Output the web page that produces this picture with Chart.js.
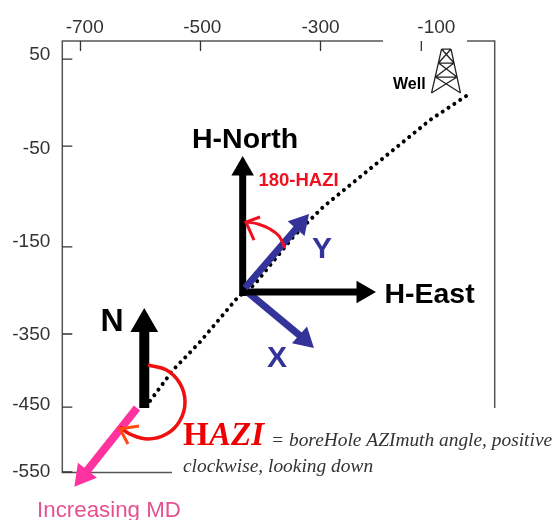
<!DOCTYPE html>
<html>
<head>
<meta charset="utf-8">
<style>
html,body{margin:0;padding:0;background:#fff;}
canvas{display:block;}
</style>
<script src="https://cdn.jsdelivr.net/npm/chart.js@4"></script>
</head>
<body>
<canvas id="graph" width="555" height="520"></canvas>
<script>
/* tick labels sit a little away from their tick marks in the original */
var xTickAt = [-693, -497, -300, -107];
var xTickLabels = ['-700', '-500', '-300', '-100'];
var yTickAt = [55.8, -80.3, -215.9, -350.5, -452.7, -550];
var yTickLabels = ['50', '-50', '-150', '-350', '-450', '-550'];
var xMarks = [-700, -500, -300, -132];
var yMarks = [50, -76.4, -223, -349.5, -455.6, -550];

/* well path */
var wellX = [-57.5, -117.5, -295.8, -317.5, -345.8, -410.8, -437.5, -500.8, -545.8, -584.2];
var wellY = [-3.8, -38.6, -165, -183.9, -208.6, -278.3, -295.8, -361.1, -401.8, -446.9];

/* arrows, last point is the centre of the head */
var mdX = [-605.8, -695.7];
var mdY = [-457, -555.5];
var nX = [-593.7, -593.7];
var nY = [-457, -335];
var hNorthX = [-429.7, -429.7];
var hNorthY = [-294.3, -109.8];
var hEastX = [-434.2, -229.2];
var hEastY = [-288.5, -288.5];
var axisYX = [-425.8, -333.5];
var axisYY = [-282.7, -189.3];
var axisXX = [-425.8, -327];
var axisXY = [-285.6, -357.2];

/* angle arcs */
var hazAngleX = [-587.5, -556.7, -534.2, -525.8, -534.2, -556.7, -587.5, -617.5, -634.2];
var hazAngleY = [-394.6, -401.8, -421.4, -448.3, -475.2, -494.8, -502, -494.8, -484.6];
var hazHeadX = [-602.5, -634.2, -620.8];
var hazHeadY = [-483.2, -487.5, -509.3];
var smallAngleX = [-359.2, -369.2, -384.2, -404.2, -422.5];
var smallAngleY = [-224.6, -207.1, -197, -189.7, -186.8];
var smallHeadX = [-400.8, -424.2, -410.8];
var smallHeadY = [-179.5, -186.8, -213];

/* derrick */
var derrickX = [-98.3, -115, null, -82.5, -66.7, null, -98.3, -82.5, null, -103.3, -77.5, null, -108.3, -72.5, null,
    -98.3, -77.5, null, -82.5, -103.3, null, -103.3, -72.5, null, -77.5, -108.3, null, -108.3, -66.7, null, -72.5, -115];
var derrickY = [64.5, 0.6, null, 64.5, 0.6, null, 64.5, 64.5, null, 44.2, 44.2, null, 23.8, 23.8, null,
    64.5, 44.2, null, 64.5, 44.2, null, 44.2, 23.8, null, 44.2, 23.8, null, 23.8, 0.6, null, 23.8, 0.6];

/* texts */
var noteText = ['H-North', 'H-East', '180-HAZI', 'Y', 'X', 'N', 'Well', 'Increasing MD',
    'H', 'AZI', '= boreHole AZImuth angle, positive', 'clockwise, looking down'];
var noteX = [-425.8, -118.3, -336.7, -297.5, -372.5, -647.5, -152, -652.5, -529.2, -485.8, -382.5, -529.2];
var noteY = [-67.7, -292.9, -127.2, -227.5, -385.8, -332.1, 12.7, -606.5, -497.7, -497.7, -504.9, -542.7];
var noteStyle = [
    ['bold 28.5px "Liberation Sans"', '#000', 'center'],
    ['bold 28.5px "Liberation Sans"', '#000', 'center'],
    ['bold 18.5px "Liberation Sans"', '#f01020', 'center'],
    ['bold 30px "Liberation Sans"', '#333399', 'center'],
    ['bold 30px "Liberation Sans"', '#333399', 'center'],
    ['bold 32px "Liberation Sans"', '#000', 'center'],
    ['bold 16px "Liberation Sans"', '#000', 'center'],
    ['22.3px "Liberation Sans"', '#e5508f', 'center'],
    ['bold 33px "Liberation Serif"', '#ee0000', 'left'],
    ['italic bold 33px "Liberation Serif"', '#ee0000', 'left'],
    ['italic 19.4px "Liberation Serif"', '#333', 'left'],
    ['italic 19.4px "Liberation Serif"', '#333', 'left']
];

function xy(xs, ys) {
    return xs.map(function (x, i) { return {x: x, y: ys[i]}; });
}

function arrow(xs, ys, color, width, head, angle) {
    return {
        data: xy(xs, ys),
        showLine: true,
        borderColor: color,
        borderWidth: width,
        backgroundColor: color,
        pointBackgroundColor: color,
        pointBorderWidth: 0,
        pointStyle: 'triangle',
        pointRotation: angle,
        pointRadius: function (c) { return c.dataIndex === xs.length - 1 ? head : 0; },
        clip: false
    };
}

function curve(xs, ys, color, width, tension) {
    return {
        data: xy(xs, ys),
        showLine: true,
        borderColor: color,
        borderWidth: width,
        pointRadius: 0,
        tension: tension,
        clip: false
    };
}

var well = curve(wellX, wellY, '#000', 4, 0);
well.borderDash = [0.01, 7];
well.borderCapStyle = 'round';

var frameAndMarks = {
    id: 'frameAndMarks',
    beforeDatasetsDraw: function (chart) {
        var ctx = chart.ctx, a = chart.chartArea;
        ctx.save();
        ctx.strokeStyle = '#555';
        ctx.lineWidth = 1.5;
        ctx.strokeRect(a.left, a.top, a.right - a.left, a.bottom - a.top);

        /* the pasted boxes hide parts of the frame */
        ctx.fillStyle = '#fff';
        ctx.fillRect(383, 36, 84, 10);
        ctx.fillRect(172, 408, 330, 70);

        ctx.strokeStyle = '#333';
        ctx.lineWidth = 1.3;
        ctx.beginPath();
        xMarks.forEach(function (v) {
            var px = chart.scales.x.getPixelForValue(v);
            ctx.moveTo(px, a.top);
            ctx.lineTo(px, a.top + 10);
        });
        yMarks.forEach(function (v) {
            var py = chart.scales.y.getPixelForValue(v);
            ctx.moveTo(a.left, py);
            ctx.lineTo(a.left + 10, py);
        });
        ctx.stroke();
        ctx.restore();
    }
};

var notes = {
    id: 'notes',
    afterDatasetsDraw: function (chart) {
        var ctx = chart.ctx;
        ctx.save();
        ctx.textBaseline = 'middle';
        noteText.forEach(function (t, i) {
            ctx.font = noteStyle[i][0];
            ctx.fillStyle = noteStyle[i][1];
            ctx.textAlign = noteStyle[i][2];
            ctx.fillText(t, chart.scales.x.getPixelForValue(noteX[i]), chart.scales.y.getPixelForValue(noteY[i]));
        });
        ctx.restore();
    }
};

var tickFont = {family: 'Liberation Sans', size: 19};

new Chart(document.getElementById('graph'), {
    type: 'scatter',
    data: {
        datasets: [
            curve(smallHeadX, smallHeadY, '#f01020', 3, 0),
            curve(smallAngleX, smallAngleY, '#f01020', 3, 0.4),
            curve(hazHeadX, hazHeadY, '#ff4a10', 3, 0),
            curve(hazAngleX, hazAngleY, '#f01010', 3.5, 0.4),
            arrow(axisYX, axisYY, '#333399', 7, 13, 41.5),
            well,
            arrow(mdX, mdY, '#ff33a0', 8, 14, 218.5),
            arrow(nX, nY, '#000', 10, 16, 0),
            arrow(hNorthX, hNorthY, '#000', 7, 13, 0),
            arrow(hEastX, hEastY, '#000', 7, 13, 90),
            arrow(axisXX, axisXY, '#333399', 7, 13, 132),
            curve(derrickX, derrickY, '#222', 1.3, 0)
        ]
    },
    options: {
        responsive: false,
        animation: false,
        devicePixelRatio: 1,
        layout: {padding: {right: 60.3, bottom: 47.5}},
        plugins: {legend: {display: false}, tooltip: {enabled: false}},
        scales: {
            x: {
                type: 'linear',
                position: 'top',
                min: -730.3,
                max: -9.7,
                grid: {display: false, drawTicks: false},
                border: {display: false},
                afterBuildTicks: function (s) { s.ticks = xTickAt.map(function (v) { return {value: v}; }); },
                afterFit: function (s) { s.height = 41; },
                ticks: {
                    autoSkip: false, maxRotation: 0, padding: 2, color: '#333', font: tickFont,
                    callback: function (v, i) { return xTickLabels[i]; }
                }
            },
            y: {
                type: 'linear',
                position: 'left',
                min: -550.7,
                max: 76.2,
                grid: {display: false, drawTicks: false},
                border: {display: false},
                afterBuildTicks: function (s) { s.ticks = yTickAt.map(function (v) { return {value: v}; }); },
                afterFit: function (s) { s.width = 62.3; },
                ticks: {
                    autoSkip: false, padding: 12, color: '#333', font: tickFont,
                    callback: function (v, i) { return yTickLabels[i]; }
                }
            }
        }
    },
    plugins: [frameAndMarks, notes]
});
</script>
</body>
</html>
